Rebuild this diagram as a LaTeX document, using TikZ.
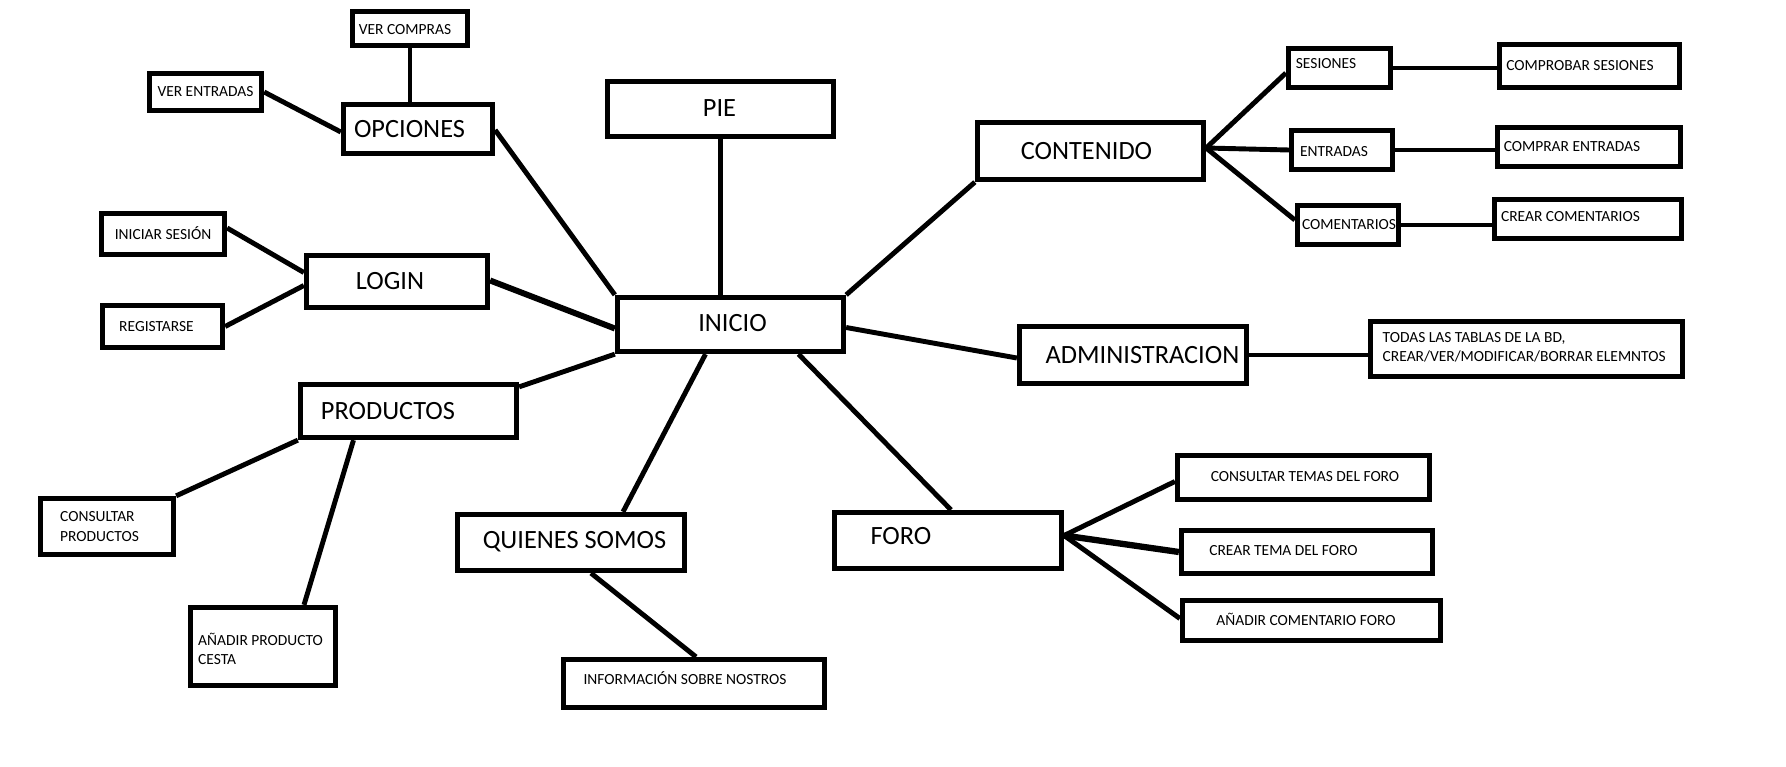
\documentclass[tikz,border=0pt]{standalone}
\usepackage{fontspec}
\setmainfont{Carlito}
\usetikzlibrary{calc}
\tikzset{
 box/.style={draw=black, line width=3pt, inner sep=0pt, fill=white},
 conn/.style={line width=2.8pt},
 big/.style={font=\fontsize{15}{18}\selectfont, text height=9.66pt, text depth=0pt, inner sep=0pt},
 sml/.style={font=\fontsize{8.8}{11}\selectfont, text height=5.67pt, text depth=0pt, inner sep=0pt},
 multi/.style={font=\fontsize{8.8}{10.9}\selectfont, align=left, inner sep=0pt}
}
% name, x1, y1, x2, y2, label style, dx, dy, text
\newcommand\bx[9]{\node[box, minimum width={(#4-#2-5)*0.02cm}, minimum height={(#5-#3-5)*0.02cm},
  label={[#6, xshift={(#7)*0.02cm}, yshift={-(#8)*0.02cm}]center:{#9}}] (#1) at ({(#2+#4)/2},{(#3+#5)/2}) {};}
\newcommand\bxw[9]{\node[box, minimum width={(#4-#2-5)*0.02cm}, minimum height={(#5-#3-5)*0.02cm},
  label={[#6, anchor=west, xshift={(#7)*0.02cm}, yshift={-(#8)*0.02cm}]west:{#9}}] (#1) at ({(#2+#4)/2},{(#3+#5)/2}) {};}
\begin{document}
\begin{tikzpicture}[x=0.02cm, y=-0.02cm]
\fill[white] (0,0) rectangle (1786,767);
\path[use as bounding box] (0,0) rectangle (1786,767);

\bx{vercompras}{350}{9}{470}{48}{sml}{-5}{1.5}{VER COMPRAS}
\bx{verentradas}{147}{71}{264}{113}{sml}{0}{0}{VER ENTRADAS}
\bx{opciones}{341}{102}{495}{156}{big}{-8.5}{0}{OPCIONES}
\bx{pie}{605}{79}{836}{139}{big}{-1}{-1}{PIE}
\bx{iniciar}{99}{211}{227}{257}{sml}{0}{1}{INICIAR SESIÓN}
\bx{login}{304}{253}{490}{310}{big}{-7}{0}{LOGIN}
\bx{registarse}{100}{303}{225}{350}{sml}{-6}{0}{REGISTARSE}
\bx{inicio}{615}{295}{846}{354}{big}{2}{-1}{INICIO}
\bx{contenido}{975}{120}{1206}{182}{big}{-4}{0.5}{CONTENIDO}
\bx{sesiones}{1286}{46}{1393}{90}{sml}{-13.5}{-4}{SESIONES}
\bx{comprobar}{1497}{42}{1682}{90}{sml}{-9.5}{0}{COMPROBAR SESIONES}
\bx{entradas}{1289}{128}{1395}{172}{sml}{-8}{2}{ENTRADAS}
\bx{comprar}{1495}{125}{1683}{169}{sml}{-17}{0}{COMPRAR ENTRADAS}
\bx{comentarios}{1295}{203}{1401}{247}{sml}{1}{0}{COMENTARIOS}
\bx{crearcom}{1492}{197}{1684}{241}{sml}{-17.5}{-2}{CREAR COMENTARIOS}
\bx{admin}{1017}{324}{1249}{386}{big}{9.5}{0}{ADMINISTRACION}
\bxw{todas}{1368}{319}{1685}{379}{multi}{14.5}{-2}{TODAS LAS TABLAS DE LA BD,\\CREAR/VER/MODIFICAR/BORRAR ELEMNTOS}
\bx{productos}{298}{382}{519}{440}{big}{-20.5}{0.5}{PRODUCTOS}
\bxw{consultar}{38}{496}{176}{557}{multi}{22}{0}{CONSULTAR\\PRODUCTOS}
\bxw{anadir}{188}{605}{338}{688}{multi}{10}{2}{AÑADIR PRODUCTO\\CESTA}
\bx{quienes}{455}{512}{687}{573}{big}{3.5}{-2}{QUIENES SOMOS}
\bx{info}{561}{657}{827}{710}{sml}{-9}{-3.5}{INFORMACIÓN SOBRE NOSTROS}
\bx{foro}{832}{510}{1064}{571}{big}{-47}{-4}{FORO}
\bx{consultemas}{1175}{453}{1432}{502}{sml}{1.5}{-0.5}{CONSULTAR TEMAS DEL FORO}
\bx{creartema}{1179}{528}{1435}{576}{sml}{-23.5}{-1}{CREAR TEMA DEL FORO}
\bx{anadircom}{1180}{598}{1443}{643}{sml}{-5.5}{0.5}{AÑADIR COMENTARIO FORO}

\draw[conn] (vercompras.south) -- (vercompras.south |- opciones.north);
\draw[conn] (verentradas.east) -- ($(opciones.west)+(0,3)$);
\draw[conn] ($(opciones.east)+(0,1)$) -- (inicio.north west);
\draw[conn] (pie.south) -- (pie.south |- inicio.north);
\draw[conn] ($(iniciar.east)+(0,-6)$) -- ($(login.west)+(0,-9)$);
\draw[conn] (registarse.east) -- ($(login.west)+(0,4)$);
\draw[conn, line width=3.4pt] ($(login.east)+(0,-1)$) -- ($(inicio.west)+(0,4)$);
\draw[conn] (inicio.south west) -- ($(productos.north east)+(0,5)$);
\draw[conn] (inicio.north east) -- (contenido.south west);
\draw[conn] ($(contenido.east)+(0,-3)$) -- ($(sesiones.west)+(0,5)$);
\draw[conn] ($(contenido.east)+(0,-3)$) -- (entradas.west);
\draw[conn] ($(contenido.east)+(0,-3)$) -- ($(comentarios.west)+(0,-5)$);
\draw[conn] (sesiones.east) -- (sesiones.east -| comprobar.west);
\draw[conn] (entradas.east) -- (entradas.east -| comprar.west);
\draw[conn] (comentarios.east) -- (comentarios.east -| crearcom.west);
\draw[conn] ($(inicio.east)+(0,3)$) -- ($(admin.west)+(0,3)$);
\draw[conn] (admin.east) -- (admin.east -| todas.west);
\draw[conn] (productos.south west) -- (consultar.north east);
\draw[conn] ($(productos.south)+(-55,0)$) -- ($(anadir.north)+(41,0)$);
\draw[conn] ($(inicio.south)+(-25,0)$) -- ($(quienes.north)+(52,0)$);
\draw[conn] ($(inicio.south)+(68,0)$) -- ($(foro.north)+(3,0)$);
\draw[conn] ($(quienes.south)+(20,0)$) -- ($(info.north)+(2,0)$);
\draw[conn] ($(foro.east)+(0,-5)$) -- ($(consultemas.west)+(0,4)$);
\draw[conn, line width=3.6pt] ($(foro.east)+(0,-5)$) -- (creartema.west);
\draw[conn] ($(foro.east)+(0,-5)$) -- ($(anadircom.west)+(0,-2)$);
\end{tikzpicture}
\end{document}
